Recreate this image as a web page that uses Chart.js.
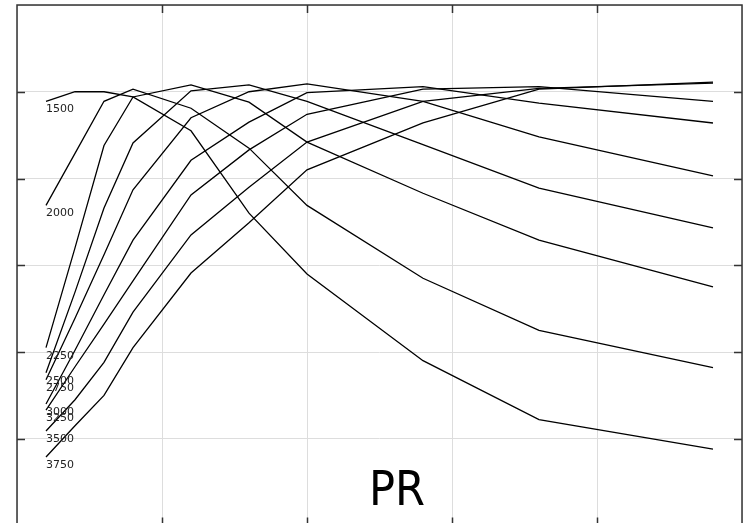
<!DOCTYPE html>
<html>
<head>
<meta charset="utf-8">
<script src="https://cdn.jsdelivr.net/npm/chart.js@4.4.0/dist/chart.umd.min.js"></script>
<style>
  html, body { margin: 0; padding: 0; overflow: hidden; background: #fff; }
  canvas { display: block; }
</style>
</head>
<body>
<canvas id="chart" width="744" height="540"></canvas>
<script>
// x positions (pressure ratio) shared by every curve
const pressureRatio = [0.5, 1, 1.5, 2, 3, 4, 5, 7, 9, 12];

// one curve per speed
const speedLabels = ["1500", "2000", "2250", "2500", "2750", "3000", "3250", "3500", "3750"];
const speed1500 = [48.9, 50.0, 50.0, 49.4, 45.5, 36.0, 29.0, 19.0, 12.2, 8.8];
const speed2000 = [36.9, 42.9, 48.9, 50.3, 48.1, 43.5, 36.9, 28.5, 22.5, 18.2];
const speed2250 = [20.5, 32.0, 43.8, 49.4, 50.8, 48.8, 44.2, 38.3, 32.9, 27.5];
const speed2500 = [17.6, 26.9, 36.6, 44.1, 50.1, 50.8, 48.9, 43.9, 38.9, 34.3];
const speed2750 = [16.8, 23.9, 31.2, 38.7, 47.0, 50.0, 50.9, 48.9, 44.8, 40.3];
const speed3000 = [14.0, 20.2, 26.6, 32.9, 42.1, 46.5, 49.9, 50.6, 48.7, 46.4];
const speed3250 = [13.3, 18.3, 23.2, 28.2, 38.1, 43.3, 47.4, 50.3, 50.6, 48.9];
const speed3500 = [10.9, 14.5, 18.8, 24.6, 33.5, 39.0, 44.2, 48.9, 50.4, 51.0];
const speed3750 = [7.9, 11.5, 15.0, 20.5, 29.1, 34.9, 41.0, 46.4, 50.3, 51.1];

// grid / tick positions (labels are not shown on the picture)
const xTicks = [0, 2.5, 5, 7.5, 10, 12.5];
const yTicks = [0, 10, 20, 30, 40, 50, 60];
const axisTitle = "PR";

const speedSeries = [speed1500, speed2000, speed2250, speed2500, speed2750,
                     speed3000, speed3250, speed3500, speed3750];

const datasets = speedSeries.map((vals, i) => ({
  label: speedLabels[i],
  data: vals.map((v, j) => ({ x: pressureRatio[j], y: v })),
  borderColor: "#000",
  borderWidth: 1.3,
  pointRadius: 0,
  tension: 0,
  fill: false,
}));

// frame, inward tick marks, curve labels and the axis title
const framePlugin = {
  id: "frame",
  afterDatasetsDraw(chart) {
    const ctx = chart.ctx;
    const a = chart.chartArea;
    const xs = chart.scales.x;
    const ys = chart.scales.y;
    ctx.save();

    // curve labels under the first point of each curve
    ctx.fillStyle = "#222";
    ctx.font = "11px 'DejaVu Sans'";
    ctx.textAlign = "left";
    ctx.textBaseline = "middle";
    chart.data.datasets.forEach((ds) => {
      const p = ds.data[0];
      ctx.fillText(ds.label, xs.getPixelForValue(p.x), ys.getPixelForValue(p.y) + 8);
    });

    // frame
    ctx.strokeStyle = "#333";
    ctx.lineWidth = 1.5;
    ctx.strokeRect(a.left, a.top, a.right - a.left, a.bottom - a.top);

    // tick marks pointing into the plot
    const len = 8;
    ctx.beginPath();
    xTicks.slice(1, -1).forEach((t) => {
      const px = Math.round(xs.getPixelForValue(t)) + 0.5;
      ctx.moveTo(px, a.top); ctx.lineTo(px, a.top + len);
      ctx.moveTo(px, a.bottom); ctx.lineTo(px, a.bottom - len);
    });
    yTicks.slice(1, -1).forEach((t) => {
      const py = Math.round(ys.getPixelForValue(t)) + 0.5;
      ctx.moveTo(a.left, py); ctx.lineTo(a.left + len, py);
      ctx.moveTo(a.right, py); ctx.lineTo(a.right - len, py);
    });
    ctx.stroke();

    // axis title inside the plot
    ctx.fillStyle = "#000";
    ctx.font = "48px 'DejaVu Sans Condensed', 'DejaVu Sans'";
    ctx.textAlign = "center";
    ctx.textBaseline = "alphabetic";
    ctx.fillText(axisTitle, a.left + (a.right - a.left) * 0.524, 505);
    ctx.restore();
  },
};

new Chart(document.getElementById("chart"), {
  type: "line",
  data: { datasets },
  options: {
    responsive: false,
    animation: false,
    layout: { padding: { left: 17, top: 5, right: 2, bottom: 14.5 } },
    plugins: { legend: { display: false }, tooltip: { enabled: false } },
    scales: {
      x: {
        type: "linear",
        min: 0,
        max: 12.5,
        afterBuildTicks: (s) => { s.ticks = xTicks.map((v) => ({ value: v })); },
        ticks: { display: false },
        grid: { color: "#dddddd", lineWidth: 1, drawTicks: false },
        border: { display: false },
      },
      y: {
        min: 0,
        max: 60,
        afterBuildTicks: (s) => { s.ticks = yTicks.map((v) => ({ value: v })); },
        ticks: { display: false },
        grid: { color: "#dddddd", lineWidth: 1, drawTicks: false },
        border: { display: false },
      },
    },
  },
  plugins: [framePlugin],
});
</script>
</body>
</html>
